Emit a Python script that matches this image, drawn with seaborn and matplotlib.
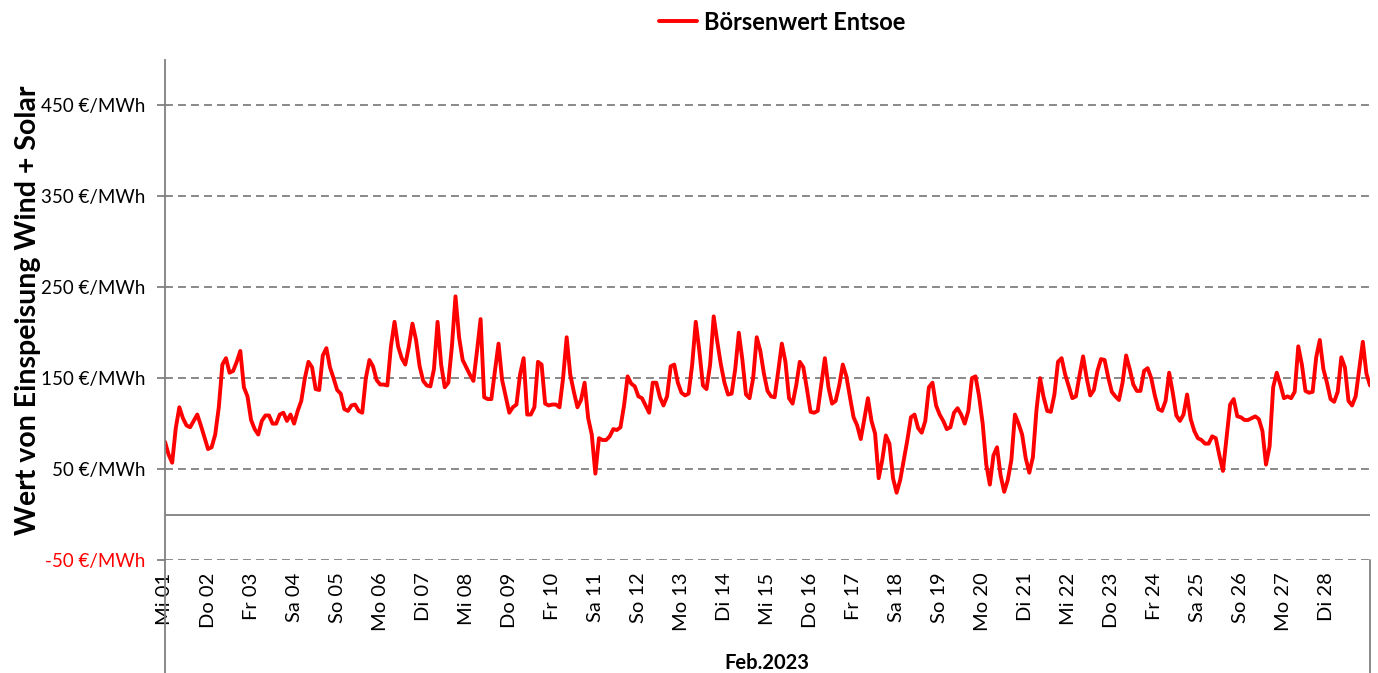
import numpy as np
import pandas as pd
import matplotlib.pyplot as plt
import seaborn as sns

# Wochentage Februar 2023
tage = ["Mi 01", "Do 02", "Fr 03", "Sa 04", "So 05", "Mo 06", "Di 07",
        "Mi 08", "Do 09", "Fr 10", "Sa 11", "So 12", "Mo 13", "Di 14",
        "Mi 15", "Do 16", "Fr 17", "Sa 18", "So 19", "Mo 20", "Di 21",
        "Mi 22", "Do 23", "Fr 24", "Sa 25", "So 26", "Mo 27", "Di 28"]

# Börsenwert in €/MWh, alle 2 Stunden (aus der Grafik geschätzt)
woche1 = [80, 66, 57, 95, 118, 106, 98, 96, 103, 110, 98, 85,
          72, 74, 88, 118, 165, 172, 156, 158, 168, 180, 140, 130,
          104, 94, 88, 103, 109, 109, 100, 100, 110, 112, 103, 110,
          100, 114, 125, 150, 168, 162, 138, 137, 175, 183, 162, 150,
          137, 133, 116, 114, 120, 121, 114, 112, 150, 170, 163, 148,
          143, 143, 142, 185, 212, 185, 172, 165, 185, 210, 192, 163,
          147, 142, 141, 160, 212, 165, 140, 145, 185, 240, 195, 170]
woche2 = [162, 154, 147, 180, 215, 129, 127, 127, 158, 188, 148, 130,
          112, 118, 121, 154, 172, 110, 110, 118, 168, 165, 122, 120,
          121, 121, 118, 150, 195, 154, 135, 118, 126, 145, 106, 88,
          45, 84, 82, 82, 86, 94, 93, 96, 120, 152, 144, 141,
          130, 128, 120, 112, 145, 145, 129, 120, 130, 163, 165, 145,
          134, 131, 133, 165, 212, 180, 142, 138, 165, 218, 190, 165,
          145, 132, 133, 160, 200, 170, 132, 128, 150, 195, 180, 155]
woche3 = [136, 130, 129, 158, 188, 168, 128, 122, 142, 168, 162, 138,
          113, 112, 114, 143, 172, 140, 122, 125, 142, 165, 152, 129,
          107, 98, 83, 105, 128, 103, 89, 40, 60, 87, 78, 40,
          24, 38, 60, 82, 107, 110, 95, 90, 103, 140, 145, 120,
          110, 103, 94, 96, 112, 117, 110, 100, 114, 150, 152, 130,
          100, 55, 33, 65, 74, 43, 25, 38, 60, 110, 100, 88,
          62, 46, 63, 115, 150, 129, 114, 113, 132, 168, 172, 154]
woche4 = [141, 128, 130, 153, 174, 150, 131, 137, 158, 171, 170, 151,
          135, 130, 126, 145, 175, 160, 143, 136, 136, 158, 161, 150,
          131, 116, 114, 125, 156, 134, 109, 103, 110, 132, 105, 92,
          84, 82, 78, 78, 86, 84, 65, 48, 85, 121, 127, 108,
          107, 104, 104, 106, 108, 105, 92, 55, 75, 140, 156, 143,
          128, 130, 128, 135, 185, 165, 136, 134, 135, 173, 192, 160,
          145, 127, 124, 135, 173, 162, 125, 120, 130, 160, 190, 155]
letzter_wert = [142]

y_ticks = [-50, 50, 150, 250, 350, 450]

preise = woche1 + woche2 + woche3 + woche4 + letzter_wert
df = pd.DataFrame({'stunde': np.arange(len(preise)) * 2, 'preis': preise})

sns.set_theme(style='white')
plt.rcParams['font.family'] = ['Lato', 'DejaVu Sans']

fig = plt.figure(figsize=(13.78, 6.73), dpi=100)
ax = fig.add_axes([165 / 1378, 1 - 560 / 673, 1205 / 1378, 500 / 673])

grau = '#808080'
sns.lineplot(data=df, x='stunde', y='preis', color='#ff0000', linewidth=2.8,
             ax=ax, label='Börsenwert Entsoe', legend=False)

ax.set_xlim(0, 672)
ax.set_ylim(-50, 500)

# Gitter und Nulllinie
for v in y_ticks:
    ax.axhline(v, color=grau, linewidth=1.3, linestyle=(0, (4.4, 2.8)), zorder=0)
ax.axhline(0, color=grau, linewidth=1.3, zorder=0)

for s in ['top', 'right', 'bottom']:
    ax.spines[s].set_visible(False)
ax.spines['left'].set_color(grau)
ax.spines['left'].set_linewidth(1.3)

# Rahmen unter der Achse (Kategoriegruppe)
ax.plot([0, 0], [0, -0.3], transform=ax.transAxes, clip_on=False, color=grau, lw=1.3)
ax.plot([1, 1], [0, -0.3], transform=ax.transAxes, clip_on=False, color=grau, lw=1.3)

ax.set_yticks(y_ticks)
ax.set_yticklabels([f'{v} €/MWh' for v in y_ticks], fontsize=13.5, color='black')
for lbl in ax.get_yticklabels():
    if lbl.get_text().startswith('-'):
        lbl.set_color('#ff0000')
ax.tick_params(axis='y', length=6, width=1.3, color=grau, pad=8, left=True)

ax.set_xticks(np.arange(len(tage)) * 24)
ax.set_xticklabels(tage, rotation=90, fontsize=14.5, color='black')
ax.tick_params(axis='x', length=0, pad=9)

ax.set_xlabel('')
ax.set_ylabel('Wert von Einspeisung Wind + Solar', fontsize=20.5, fontweight='bold',
              color='black')
ax.yaxis.set_label_coords(-0.103, 0.5)

fig.text(767 / 1378, 1 - 663 / 673, 'Feb.2023', ha='center', va='center',
         fontsize=14.5, fontweight='bold', color='black')

fig.legend(loc='center', bbox_to_anchor=(782 / 1378, 1 - 22 / 673), frameon=False,
           prop={'size': 17, 'weight': 'bold'}, handlelength=1.6, handletextpad=0.3)
for t in fig.legends[0].get_texts():
    t.set_color('black')

fig.savefig('out.png', dpi=100)
